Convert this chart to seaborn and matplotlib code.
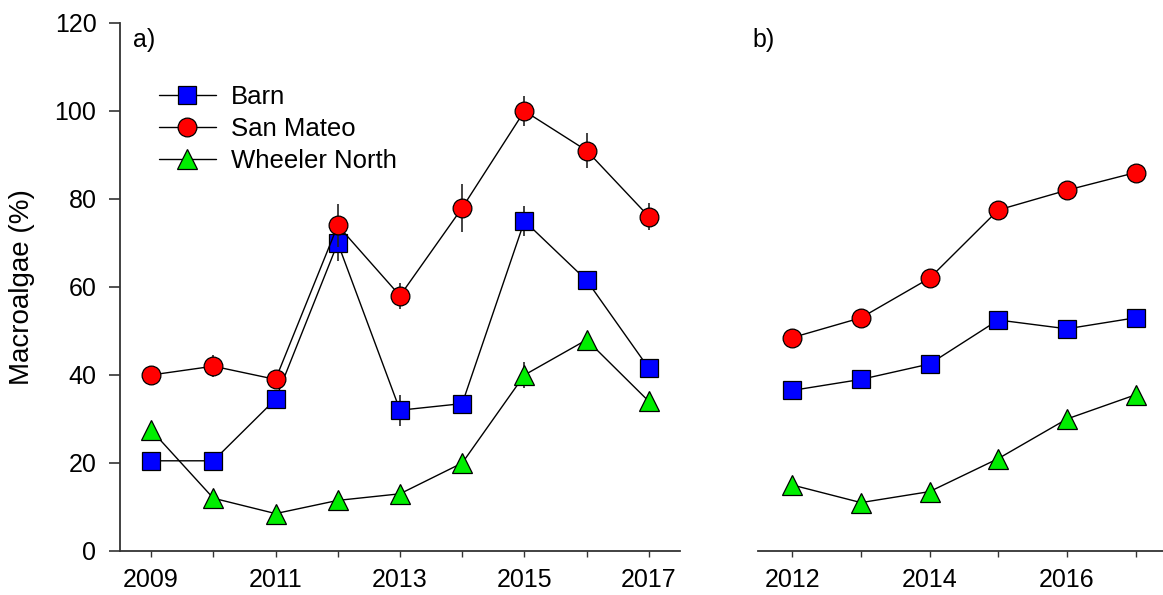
import matplotlib
matplotlib.use("Agg")
import matplotlib.pyplot as plt
import pandas as pd
import seaborn as sns

sns.set_style("ticks")
plt.rcParams["font.family"] = ["Liberation Sans", "DejaVu Sans"]
plt.rcParams["text.color"] = "black"
plt.rcParams["xtick.labelcolor"] = "black"
plt.rcParams["ytick.labelcolor"] = "black"
plt.rcParams["axes.labelcolor"] = "black"

# ---------------------------------------------------------------------------
# Data
# ---------------------------------------------------------------------------
years_a = [2009, 2010, 2011, 2012, 2013, 2014, 2015, 2016, 2017]
barn_a = [20.5, 20.5, 34.5, 70.0, 32.0, 33.5, 75.0, 61.5, 41.5]
barn_a_se = [1.0, 1.0, 2.0, 4.0, 3.5, 1.5, 3.5, 2.0, 1.5]
sm_a = [40.0, 42.0, 39.0, 74.0, 58.0, 78.0, 100.0, 91.0, 76.0]
sm_a_se = [2.0, 2.5, 2.0, 4.8, 3.0, 5.5, 3.5, 4.0, 3.0]
wn_a = [27.5, 12.0, 8.5, 11.5, 13.0, 20.0, 40.0, 48.0, 34.0]
wn_a_se = [1.0, 0.8, 0.8, 0.8, 0.8, 1.0, 3.0, 1.5, 1.0]

years_b = [2012, 2013, 2014, 2015, 2016, 2017]
barn_b = [36.5, 39.0, 42.5, 52.5, 50.5, 53.0]
barn_b_se = [0.8, 0.8, 0.8, 0.8, 0.8, 0.8]
sm_b = [48.5, 53.0, 62.0, 77.5, 82.0, 86.0]
sm_b_se = [2.0, 2.0, 2.0, 2.0, 1.5, 1.5]
wn_b = [15.0, 11.0, 13.5, 21.0, 30.0, 35.5]
wn_b_se = [0.6, 0.6, 0.6, 0.6, 0.6, 0.6]

sites = ["Barn", "San Mateo", "Wheeler North"]
site_colors = {"Barn": "#0000ff", "San Mateo": "#ff0000", "Wheeler North": "#00ee00"}
site_markers = {"Barn": "s", "San Mateo": "o", "Wheeler North": "^"}
marker_sizes = {"Barn": 13, "San Mateo": 13.5, "Wheeler North": 14}

ticklabels_a = ["2009", "", "2011", "", "2013", "", "2015", "", "2017"]
ticklabels_b = ["2012", "", "2014", "", "2016", ""]
yticks = [0, 20, 40, 60, 80, 100, 120]


def to_frame(years, values, errors):
    return pd.DataFrame({"year": years, "value": values, "se": errors})


panel_a = {
    "Barn": to_frame(years_a, barn_a, barn_a_se),
    "San Mateo": to_frame(years_a, sm_a, sm_a_se),
    "Wheeler North": to_frame(years_a, wn_a, wn_a_se),
}
panel_b = {
    "Barn": to_frame(years_b, barn_b, barn_b_se),
    "San Mateo": to_frame(years_b, sm_b, sm_b_se),
    "Wheeler North": to_frame(years_b, wn_b, wn_b_se),
}

# ---------------------------------------------------------------------------
# Figure
# ---------------------------------------------------------------------------
fig = plt.figure(figsize=(11.63, 5.95), dpi=100)
ax_a = fig.add_axes([120 / 1163, 44 / 595, 560 / 1163, 528 / 595])
ax_b = fig.add_axes([758 / 1163, 44 / 595, 405 / 1163, 528 / 595])

spine_col = "#333333"


def draw_panel(ax, panel):
    for z, site in enumerate(sites):
        d = panel[site]
        ax.errorbar(d["year"], d["value"], yerr=d["se"], fmt="none",
                    ecolor="#222222", elinewidth=1.2, capsize=0, zorder=2 + 2 * z)
        sns.lineplot(data=d, x="year", y="value", ax=ax, color="black",
                     linewidth=1.0, marker=site_markers[site],
                     markersize=marker_sizes[site],
                     markerfacecolor=site_colors[site],
                     markeredgecolor="black", markeredgewidth=0.9,
                     label=site, zorder=3 + 2 * z, legend=False)


draw_panel(ax_a, panel_a)
draw_panel(ax_b, panel_b)

for ax in (ax_a, ax_b):
    ax.set_ylim(0, 120)
    ax.set_xlabel("")
    ax.set_ylabel("")
    for s in ("top", "right"):
        ax.spines[s].set_visible(False)
    ax.spines["bottom"].set_color(spine_col)
    ax.spines["bottom"].set_linewidth(1.3)
    ax.tick_params(axis="x", direction="out", length=4, width=1.0,
                   color=spine_col, labelsize=18, pad=8)

# panel a axes
ax_a.set_xlim(2008.5, 2017.5)
ax_a.set_xticks(years_a)
ax_a.set_xticklabels(ticklabels_a)
ax_a.set_yticks(yticks)
ax_a.set_yticklabels([str(v) for v in yticks])
ax_a.spines["left"].set_color(spine_col)
ax_a.spines["left"].set_linewidth(1.3)
ax_a.tick_params(axis="y", direction="out", length=8, width=1.2,
                 color=spine_col, labelsize=18, pad=9)
ax_a.set_ylabel("Macroalgae (%)", fontsize=20, labelpad=14)

# panel b axes: only the x axis is shown
ax_b.set_xlim(2011.5, 2017.4)
ax_b.set_xticks(years_b)
ax_b.set_xticklabels(ticklabels_b)
ax_b.spines["left"].set_visible(False)
ax_b.set_yticks([])

ax_a.legend(loc="upper left", bbox_to_anchor=(0.07, 0.882), frameon=False,
            fontsize=18.5, handlelength=2.2, handletextpad=0.6,
            labelspacing=0.3, borderpad=0, borderaxespad=0)

fig.text(133 / 1163, 1 - 28 / 595, "a)", fontsize=18, va="top", ha="left")
fig.text(752 / 1163, 1 - 28 / 595, "b)", fontsize=18, va="top", ha="left")

fig.savefig("out.png", dpi=100)
